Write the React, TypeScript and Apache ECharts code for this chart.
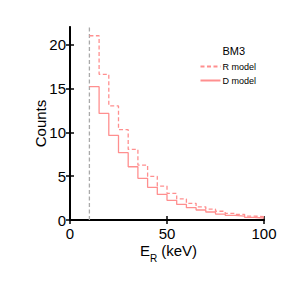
import React, { useEffect, useRef } from "react";
import * as echarts from "echarts";

const binEdges = [10, 15, 20, 25, 30, 35, 40, 45, 50, 55, 60, 65, 70, 75, 80, 85, 90, 95, 100];
const rModel = [21.0, 16.6, 13.0, 10.3, 8.05, 6.26, 4.97, 3.87, 3.04, 2.4, 1.9, 1.5, 1.25, 1.0, 0.76, 0.65, 0.45, 0.38];
const dModel = [15.2, 12.15, 9.64, 7.67, 6.07, 4.75, 3.72, 2.92, 2.24, 1.78, 1.4, 1.14, 0.91, 0.68, 0.53, 0.45, 0.3, 0.23];
const thresholdLine = [[10, 0], [10, 22]];
const xTicks = [0, 50, 100];
const yTicks = [0, 5, 10, 15, 20];

const FONT = "Liberation Sans";
const PINK = "#ff8f8f";

function stepData(values: number[]) {
  const d: number[][] = values.map((v, i) => [binEdges[i], v]);
  d.push([binEdges[binEdges.length - 1], values[values.length - 1]]);
  return d;
}

export default function App() {
  const ref = useRef<HTMLDivElement>(null);
  useEffect(() => {
    if (!ref.current) return;
    const chart = echarts.init(ref.current, undefined, { renderer: "svg" });
    chart.setOption({
      animation: false,
      backgroundColor: "#ffffff",
      grid: { left: 70, right: 27, top: 27, bottom: 71 },
      title: {
        text: "BM3",
        right: 41,
        top: 40,
        textStyle: { fontFamily: FONT, fontSize: 11, fontWeight: "normal", color: "#000" },
      },
      legend: {
        data: ["R model", "D model"],
        orient: "vertical",
        right: 30,
        top: 57,
        itemWidth: 20,
        itemHeight: 6,
        itemGap: 5,
        itemStyle: { opacity: 0 },
        textStyle: { fontFamily: FONT, fontSize: 9, color: "#000", padding: [0, 0, 0, -3] },
      },
      xAxis: [
        {
          type: "value",
          min: 0,
          max: 100,
          interval: 50,
          axisLine: { lineStyle: { color: "#000", width: 2 } },
          axisTick: { inside: true, length: 4, lineStyle: { color: "#000", width: 1.5 } },
          axisLabel: {
            fontFamily: FONT,
            fontSize: 15,
            color: "#000",
            margin: 6,
            customValues: xTicks,
          },
          splitLine: { show: false },
        },
        {
          type: "value",
          position: "top",
          min: 0,
          max: 100,
          interval: 50,
          axisLine: { lineStyle: { color: "#000", width: 1.5 } },
          axisTick: { inside: true, length: 4, lineStyle: { color: "#000", width: 1.5 } },
          axisLabel: { show: false },
          splitLine: { show: false },
        },
      ],
      yAxis: [
        {
          type: "value",
          min: 0,
          max: 22,
          interval: 5,
          name: "Counts",
          nameLocation: "middle",
          nameGap: 22,
          nameMoveOverlap: false,
          nameTextStyle: { fontFamily: FONT, fontSize: 15, color: "#000" },
          axisLine: { lineStyle: { color: "#000", width: 2 } },
          axisTick: { inside: true, length: 4, lineStyle: { color: "#000", width: 1.5 }, customValues: yTicks },
          axisLabel: {
            fontFamily: FONT,
            fontSize: 15,
            color: "#000",
            margin: 4,
            customValues: yTicks,
          },
          splitLine: { show: false },
        },
        {
          type: "value",
          position: "right",
          min: 0,
          max: 22,
          interval: 5,
          axisLine: { lineStyle: { color: "#000", width: 1.5 } },
          axisTick: { inside: true, length: 4, lineStyle: { color: "#000", width: 1.5 }, customValues: yTicks },
          axisLabel: { show: false },
          splitLine: { show: false },
        },
      ],
      graphic: [
        {
          type: "text",
          x: 140,
          y: 250,
          style: { text: "E", font: `15px '${FONT}'`, fill: "#000", verticalAlign: "middle", align: "left" },
        },
        {
          type: "text",
          x: 150,
          y: 258,
          style: { text: "R", font: `10px '${FONT}'`, fill: "#000", verticalAlign: "middle", align: "left" },
        },
        {
          type: "text",
          x: 157,
          y: 250,
          style: { text: " (keV)", font: `15px '${FONT}'`, fill: "#000", verticalAlign: "middle", align: "left" },
        },
      ],
      series: [
        {
          name: "threshold",
          type: "line",
          data: thresholdLine,
          symbol: "none",
          lineStyle: { color: "#aaaaaa", width: 1.3, type: [4, 2.5] },
          silent: true,
        },
        {
          name: "R model",
          type: "line",
          step: "end",
          data: stepData(rModel),
          symbol: "none",
          color: PINK,
          lineStyle: { color: PINK, width: 1.3, type: [4, 2.5] },
        },
        {
          name: "D model",
          type: "line",
          step: "end",
          data: stepData(dModel),
          symbol: "none",
          color: PINK,
          lineStyle: { color: PINK, width: 1.3 },
        },
      ],
    });
    return () => chart.dispose();
  }, []);
  return (
    <div
      ref={ref}
      style={{ position: "fixed", left: 0, top: 0, width: 291, height: 291 }}
    />
  );
}
